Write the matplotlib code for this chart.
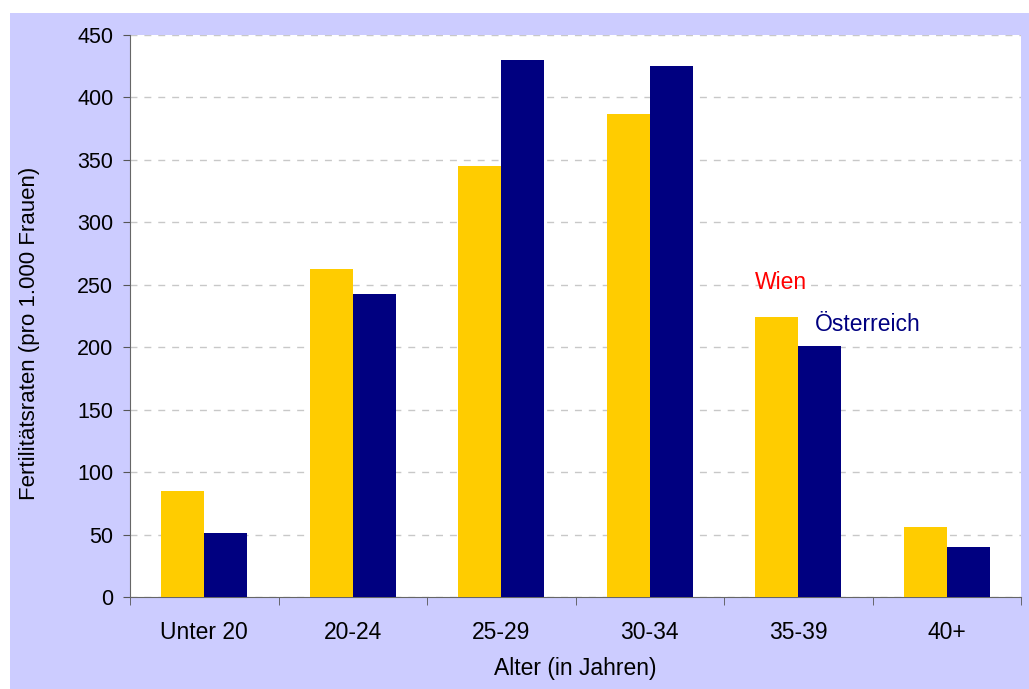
import matplotlib.pyplot as plt
import numpy as np
from matplotlib.patches import Rectangle

plt.rcParams['font.family'] = ['Liberation Sans', 'DejaVu Sans']

# age groups and fertility rates (per 1,000 women)
categories = ['Unter 20', '20-24', '25-29', '30-34', '35-39', '40+']
wien = [85, 263, 345, 387, 224, 56]
oesterreich = [51, 243, 430, 425, 201, 40]

fig = plt.figure(figsize=(10.29, 6.89), dpi=100)
fig.patch.set_facecolor('white')
# lavender chart area behind the axes
bg = Rectangle((10 / 1029, 0), 1 - 10 / 1029, 1 - 13 / 689,
               transform=fig.transFigure, facecolor='#CCCCFF',
               edgecolor='none', zorder=-10)
fig.add_artist(bg)

ax = fig.add_axes([130 / 1029, 1 - 597 / 689, 891 / 1029, 562 / 689])
ax.set_zorder(1)
ax.set_facecolor('white')

x = np.arange(len(categories))
w = 0.29
ax.bar(x - w / 2, wien, width=w, color='#FFCC00', zorder=3)
ax.bar(x + w / 2, oesterreich, width=w, color='#000080', zorder=3)

ax.set_xlim(-0.5, len(categories) - 0.5)
ax.set_ylim(0, 450)
ax.set_yticks(np.arange(0, 451, 50))
ax.yaxis.grid(True, linestyle=(0, (5, 5)), color='#C8C8C8', linewidth=1, zorder=0)

ax.set_xticks(x)
ax.set_xticklabels(categories, fontsize=16.5)
ax.set_xticks(np.arange(-0.5, len(categories)), minor=True)
ax.tick_params(axis='x', which='major', length=0, pad=17)
ax.tick_params(axis='x', which='minor', length=5.5, color='#555555')
ax.tick_params(axis='y', labelsize=15.5, length=5, pad=7, color='#555555')

for s in ['top', 'right']:
    ax.spines[s].set_visible(False)
for s in ['left', 'bottom']:
    ax.spines[s].set_color('#666666')

ax.set_xlabel('Alter (in Jahren)', fontsize=16.5)
ax.set_ylabel('Fertilitätsraten (pro 1.000 Frauen)', fontsize=16)
ax.xaxis.set_label_coords(0.5, (597 - 668) / 562)
ax.xaxis.label.set_va('center')
ax.yaxis.set_label_coords((30 - 130) / 891, (597 - 333) / 562)
ax.yaxis.label.set_va('center')

ax.text(3.71, 252, 'Wien', color='red', fontsize=16.5, va='center', ha='left')
ax.text(4.11, 218, 'Österreich', color='#000080', fontsize=16.5, va='center', ha='left')

fig.savefig('out.png', dpi=100)
